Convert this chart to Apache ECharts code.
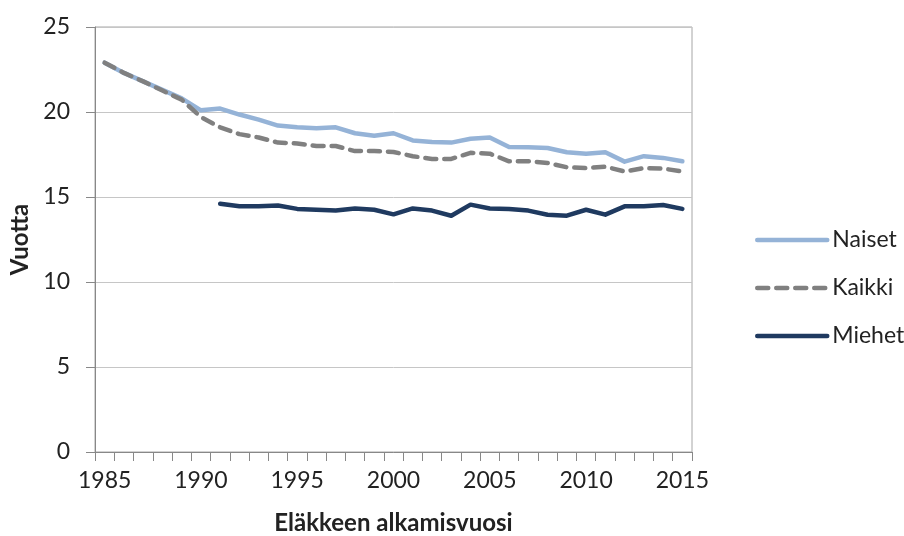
<!DOCTYPE html>
<html>
<head>
<meta charset="utf-8">
<script src="https://cdn.jsdelivr.net/npm/echarts@6/dist/echarts.min.js"></script>
<style>
html,body{margin:0;padding:0;background:#fff;}
#chart{width:904px;height:536px;}
</style>
</head>
<body>
<div id="chart"></div>
<script>
const years = ['1985','1986','1987','1988','1989','1990','1991','1992','1993','1994','1995','1996','1997','1998','1999','2000','2001','2002','2003','2004','2005','2006','2007','2008','2009','2010','2011','2012','2013','2014','2015'];
const naiset = [22.9,22.3,21.8,21.3,20.8,20.1,20.2,19.85,19.55,19.2,19.1,19.05,19.1,18.75,18.6,18.75,18.33,18.24,18.2,18.43,18.5,17.94,17.92,17.88,17.63,17.55,17.63,17.08,17.4,17.3,17.1];
const kaikki = [22.9,22.3,21.8,21.26,20.73,19.7,19.1,18.7,18.5,18.2,18.15,18.0,18.0,17.7,17.7,17.65,17.4,17.24,17.24,17.6,17.55,17.1,17.1,17.0,16.75,16.7,16.78,16.5,16.7,16.67,16.5];
const miehet = [null,null,null,null,null,null,14.6,14.45,14.45,14.5,14.3,14.25,14.2,14.33,14.25,13.98,14.33,14.2,13.9,14.55,14.32,14.3,14.2,13.96,13.9,14.25,13.96,14.45,14.45,14.53,14.3];
const yTicks = {min: 0, max: 25, interval: 5};
const seriesNames = ['Naiset','Kaikki','Miehet'];

const FONT = 'Lato, "Open Sans", sans-serif';
const chart = echarts.init(document.getElementById('chart'), null, {renderer: 'canvas'});
chart.setOption({
  animation: false,
  backgroundColor: '#ffffff',
  grid: {left: 95, right: 212, top: 27, bottom: 84, show: true, borderColor: '#a6a6a6', borderWidth: 1, containLabel: false, outerBoundsMode: 'none'},
  legend: {
    orient: 'vertical',
    left: 750,
    top: 221,
    itemWidth: 70,
    itemHeight: 5,
    itemGap: 20,
    data: seriesNames,
    textStyle: {fontFamily: FONT, fontSize: 23, color: '#222', lineHeight: 28, padding: [0,0,0,0]},
    itemStyle: {opacity: 0, borderWidth: 0},
    lineStyle: {width: 4.5, cap: 'round'}
  },
  xAxis: {
    type: 'category',
    data: years,
    boundaryGap: true,
    name: 'Eläkkeen alkamisvuosi',
    nameLocation: 'middle',
    nameGap: 59,
    nameTextStyle: {fontFamily: FONT, fontSize: 24, fontWeight: 'bold', color: '#222'},
    axisLine: {show: true, lineStyle: {color: '#888888', width: 1}},
    axisTick: {show: true, interval: 0, length: 9, inside: false, lineStyle: {color: '#888888'}},
    axisLabel: {interval: 4, margin: 17, fontFamily: FONT, fontSize: 23, color: '#222'},
    splitLine: {show: false}
  },
  yAxis: {
    type: 'value',
    min: yTicks.min,
    max: yTicks.max,
    interval: yTicks.interval,
    name: 'Vuotta',
    nameLocation: 'middle',
    nameGap: 63,
    nameRotate: 90,
    nameTextStyle: {fontFamily: FONT, fontSize: 24, fontWeight: 'bold', color: '#222'},
    axisLine: {show: true, lineStyle: {color: '#888888', width: 1}},
    axisTick: {show: true, length: 9, lineStyle: {color: '#888888'}},
    axisLabel: {margin: 25, fontFamily: FONT, fontSize: 23, color: '#222'},
    splitLine: {show: true, lineStyle: {color: '#c6c6c6', width: 1}}
  },
  series: [
    {
      name: 'Naiset', type: 'line', data: naiset, showSymbol: false, symbol: 'none',
      lineStyle: {color: '#95b3d7', width: 4.5, cap: 'round', join: 'round'},
      itemStyle: {color: '#95b3d7'}, z: 3
    },
    {
      name: 'Kaikki', type: 'line', data: kaikki, showSymbol: false, symbol: 'none',
      lineStyle: {color: '#808080', width: 4.5, type: [11, 8], cap: 'round', join: 'round'},
      itemStyle: {color: '#808080'}, z: 4
    },
    {
      name: 'Miehet', type: 'line', data: miehet, showSymbol: false, symbol: 'none', connectNulls: false,
      lineStyle: {color: '#1f3a60', width: 4.5, cap: 'round', join: 'round'},
      itemStyle: {color: '#1f3a60'}, z: 3
    }
  ]
});
</script>
</body>
</html>
